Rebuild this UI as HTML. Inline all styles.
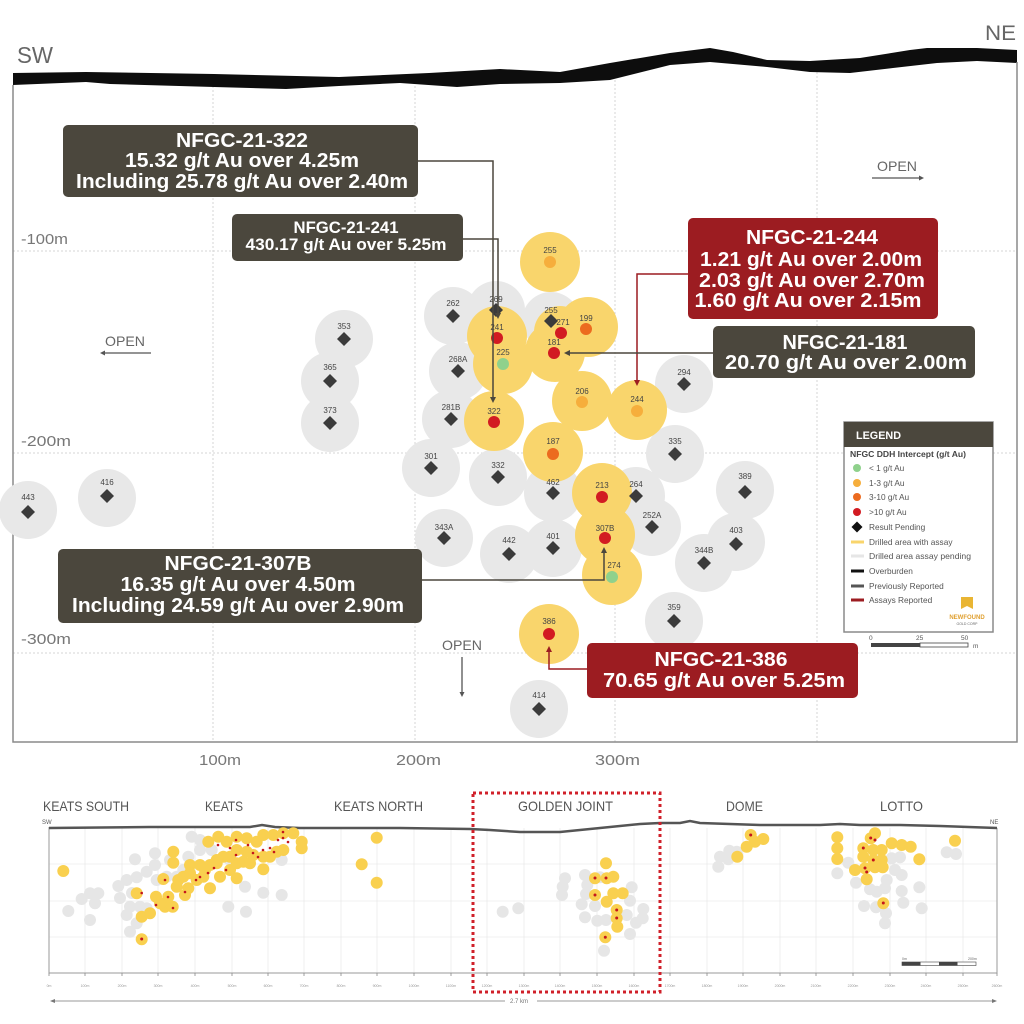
<!DOCTYPE html>
<html><head><meta charset="utf-8"><style>
html,body{margin:0;padding:0;background:#fff;}
svg{display:block;font-family:"Liberation Sans",Arial,sans-serif;}
</style></head><body>
<svg width="1024" height="1024" viewBox="0 0 1024 1024" xmlns="http://www.w3.org/2000/svg">
<rect width="1024" height="1024" fill="#fff"/>

<!-- grid -->
<g stroke="#d6d6d6" stroke-width="1" stroke-dasharray="2 2" fill="none">
<path d="M13 251H1017M13 453H1017M13 653H1017"/>
<path d="M213 86V742M415 86V742M615 80V742M817 72V742"/>
</g>

<!-- overburden -->
<polygon fill="#0d0d0d" points="13,73 86,72 214,74 339,77 429,73 500,69 560,72 610,63 670,53 710,48 733,52 767,60 810,61 860,58 910,50 927,48 977,48 1017,50 1017,63 977,61 937,63 893,68 850,73 810,72 767,67 710,62 670,65 610,80 560,83 500,84 457,87 400,83 339,86 286,89 214,87 110,84 86,82 13,85"/>
<text x="17" y="63" font-size="23" fill="#666" textLength="36" lengthAdjust="spacingAndGlyphs">SW</text>
<text x="985" y="40" font-size="21" fill="#666" textLength="31" lengthAdjust="spacingAndGlyphs">NE</text>

<!-- frame -->
<path d="M13 85V742H1017V62" fill="none" stroke="#8a8a8a" stroke-width="1.5"/>

<!-- axis labels -->
<g font-size="15" fill="#777">
<text x="21" y="244" textLength="47" lengthAdjust="spacingAndGlyphs">-100m</text>
<text x="21" y="446" textLength="50" lengthAdjust="spacingAndGlyphs">-200m</text>
<text x="21" y="644" textLength="50" lengthAdjust="spacingAndGlyphs">-300m</text>
<text x="199" y="765" textLength="42" lengthAdjust="spacingAndGlyphs">100m</text>
<text x="396" y="765" textLength="45" lengthAdjust="spacingAndGlyphs">200m</text>
<text x="595" y="765" textLength="45" lengthAdjust="spacingAndGlyphs">300m</text>
</g>

<!-- gray circles -->
<g fill="#e8e8e8">
<circle cx="344" cy="339" r="29"/><circle cx="330" cy="381" r="29"/><circle cx="330" cy="423" r="29"/>
<circle cx="453" cy="316" r="29"/><circle cx="458" cy="371" r="29"/><circle cx="451" cy="419" r="29"/>
<circle cx="496" cy="310" r="29"/><circle cx="551" cy="321" r="29"/><circle cx="684" cy="384" r="29"/>
<circle cx="675" cy="454" r="29"/><circle cx="431" cy="468" r="29"/><circle cx="498" cy="477" r="29"/>
<circle cx="553" cy="493" r="29"/><circle cx="636" cy="496" r="29"/><circle cx="745" cy="490" r="29"/>
<circle cx="652" cy="527" r="29"/><circle cx="444" cy="538" r="29"/><circle cx="509" cy="554" r="29"/>
<circle cx="553" cy="548" r="29"/><circle cx="736" cy="542" r="29"/><circle cx="704" cy="563" r="29"/>
<circle cx="674" cy="621" r="29"/><circle cx="539" cy="709" r="29"/><circle cx="28" cy="510" r="29"/>
<circle cx="107" cy="498" r="29"/>
</g>

<!-- yellow circles -->
<g fill="#f9d56c">
<circle cx="550" cy="262" r="30"/><circle cx="497" cy="336" r="30"/><circle cx="503" cy="364" r="30"/>
<circle cx="555" cy="352" r="30"/><circle cx="560" cy="332" r="26"/><circle cx="588" cy="327" r="30"/>
<circle cx="582" cy="401" r="30"/><circle cx="637" cy="410" r="30"/><circle cx="494" cy="421" r="30"/>
<circle cx="553" cy="452" r="30"/><circle cx="602" cy="493" r="30"/><circle cx="605" cy="535" r="30"/>
<circle cx="612" cy="575" r="30"/><circle cx="549" cy="634" r="30"/>
</g>

<!-- markers -->
<g fill="#3b3b3b">
<path d="M344 332l7 7-7 7-7-7z"/><path d="M330 374l7 7-7 7-7-7z"/><path d="M330 416l7 7-7 7-7-7z"/>
<path d="M453 309l7 7-7 7-7-7z"/><path d="M458 364l7 7-7 7-7-7z"/><path d="M451 412l7 7-7 7-7-7z"/>
<path d="M496 303l7 7-7 7-7-7z"/><path d="M551 314l7 7-7 7-7-7z"/><path d="M684 377l7 7-7 7-7-7z"/>
<path d="M675 447l7 7-7 7-7-7z"/><path d="M431 461l7 7-7 7-7-7z"/><path d="M498 470l7 7-7 7-7-7z"/>
<path d="M553 486l7 7-7 7-7-7z"/><path d="M636 489l7 7-7 7-7-7z"/><path d="M745 485l7 7-7 7-7-7z"/>
<path d="M652 520l7 7-7 7-7-7z"/><path d="M444 531l7 7-7 7-7-7z"/><path d="M509 547l7 7-7 7-7-7z"/>
<path d="M553 541l7 7-7 7-7-7z"/><path d="M736 537l7 7-7 7-7-7z"/><path d="M704 556l7 7-7 7-7-7z"/>
<path d="M674 614l7 7-7 7-7-7z"/><path d="M539 702l7 7-7 7-7-7z"/><path d="M28 505l7 7-7 7-7-7z"/>
<path d="M107 489l7 7-7 7-7-7z"/>
</g>

<!-- dots -->
<circle cx="550" cy="262" r="6" fill="#f6ae3c"/>
<circle cx="497" cy="338" r="6" fill="#d21b22"/>
<circle cx="561" cy="333" r="6" fill="#d21b22"/>
<circle cx="586" cy="329" r="6" fill="#ec6b1f"/>
<circle cx="554" cy="353" r="6" fill="#d21b22"/>
<circle cx="503" cy="364" r="6" fill="#8fd18c"/>
<circle cx="582" cy="402" r="6" fill="#f6ae3c"/>
<circle cx="637" cy="411" r="6" fill="#f6ae3c"/>
<circle cx="494" cy="422" r="6" fill="#d21b22"/>
<circle cx="553" cy="454" r="6" fill="#ec6b1f"/>
<circle cx="602" cy="497" r="6" fill="#d21b22"/>
<circle cx="605" cy="538" r="6" fill="#d21b22"/>
<circle cx="612" cy="577" r="6" fill="#8fd18c"/>
<circle cx="549" cy="634" r="6" fill="#d21b22"/>

<!-- hole labels -->
<g font-size="8" fill="#444" text-anchor="middle">
<text x="344" y="329">353</text><text x="330" y="370">365</text><text x="330" y="413">373</text>
<text x="453" y="306">262</text><text x="458" y="362">268A</text><text x="451" y="410">281B</text>
<text x="496" y="302">269</text><text x="551" y="313">255</text><text x="684" y="375">294</text>
<text x="675" y="444">335</text><text x="431" y="459">301</text><text x="498" y="468">332</text>
<text x="553" y="485">462</text><text x="636" y="487">264</text><text x="745" y="479">389</text>
<text x="652" y="518">252A</text><text x="444" y="530">343A</text><text x="509" y="543">442</text>
<text x="553" y="539">401</text><text x="736" y="533">403</text><text x="704" y="553">344B</text>
<text x="674" y="610">359</text><text x="539" y="698">414</text><text x="28" y="500">443</text>
<text x="107" y="485">416</text>
<text x="550" y="253">255</text><text x="497" y="330">241</text><text x="563" y="325">271</text>
<text x="586" y="321">199</text><text x="554" y="345">181</text><text x="503" y="355">225</text>
<text x="582" y="394">206</text><text x="637" y="402">244</text><text x="494" y="414">322</text>
<text x="553" y="444">187</text><text x="602" y="488">213</text><text x="605" y="531">307B</text>
<text x="614" y="568">274</text><text x="549" y="624">386</text>
</g>

<!-- OPEN labels -->
<g font-size="14" fill="#666">
<text x="105" y="346" textLength="40" lengthAdjust="spacingAndGlyphs">OPEN</text>
<text x="877" y="171" textLength="40" lengthAdjust="spacingAndGlyphs">OPEN</text>
<text x="442" y="650" textLength="40" lengthAdjust="spacingAndGlyphs">OPEN</text>
</g>
<g stroke="#555" stroke-width="1.3" fill="none">
<path d="M151 353H102M872 178H921M462 657V694"/>
</g>
<g fill="#555">
<path d="M100 353l5-2.5v5z"/><path d="M924 178l-5-2.5v5z"/><path d="M462 697l-2.5-5h5z"/>
</g>

<!-- connectors -->
<g fill="none" stroke-width="1.5">
<path d="M418 161H493V398" stroke="#4b473d"/>
<path d="M463 239H498V314" stroke="#4b473d"/>
<path d="M688 274H637V381" stroke="#9c1c21"/>
<path d="M713 353H569" stroke="#4b473d"/>
<path d="M422 580H604V552" stroke="#4b473d"/>
<path d="M587 669H549V651" stroke="#9c1c21"/>
</g>
<path d="M493 403l-3-6h6z" fill="#4b473d"/>
<path d="M498 319l-3-6h6z" fill="#4b473d"/>
<path d="M637 386l-3-6h6z" fill="#9c1c21"/>
<path d="M564 353l6-3v6z" fill="#4b473d"/>
<path d="M604 547l-3 6h6z" fill="#4b473d"/>
<path d="M549 646l-3 6h6z" fill="#9c1c21"/>

<!-- boxes -->
<g fill="#fff" font-weight="bold" text-anchor="middle">
<rect x="63" y="125" width="355" height="72" rx="5" fill="#4b473d"/>
<text x="242" y="147" font-size="20" textLength="132" lengthAdjust="spacingAndGlyphs">NFGC-21-322</text>
<text x="242" y="167" font-size="20" textLength="234" lengthAdjust="spacingAndGlyphs">15.32 g/t Au over 4.25m</text>
<text x="242" y="188" font-size="20" textLength="332" lengthAdjust="spacingAndGlyphs">Including 25.78 g/t Au over 2.40m</text>

<rect x="232" y="214" width="231" height="47" rx="5" fill="#4b473d"/>
<text x="346" y="233" font-size="16.5" textLength="105" lengthAdjust="spacingAndGlyphs">NFGC-21-241</text>
<text x="346" y="250" font-size="16.5" textLength="201" lengthAdjust="spacingAndGlyphs">430.17 g/t Au over 5.25m</text>

<rect x="688" y="218" width="250" height="101" rx="5" fill="#9c1c21"/>
<text x="812" y="244" font-size="20" textLength="132" lengthAdjust="spacingAndGlyphs">NFGC-21-244</text>
<text x="811" y="266" font-size="20" textLength="222" lengthAdjust="spacingAndGlyphs">1.21 g/t Au over 2.00m</text>
<text x="812" y="287" font-size="20" textLength="226" lengthAdjust="spacingAndGlyphs">2.03 g/t Au over 2.70m</text>
<text x="808" y="307" font-size="20" textLength="227" lengthAdjust="spacingAndGlyphs">1.60 g/t Au over 2.15m</text>

<rect x="713" y="326" width="262" height="52" rx="5" fill="#4b473d"/>
<text x="845" y="349" font-size="20" textLength="125" lengthAdjust="spacingAndGlyphs">NFGC-21-181</text>
<text x="846" y="369" font-size="20" textLength="242" lengthAdjust="spacingAndGlyphs">20.70 g/t Au over 2.00m</text>

<rect x="58" y="549" width="364" height="74" rx="5" fill="#4b473d"/>
<text x="238" y="570" font-size="20" textLength="147" lengthAdjust="spacingAndGlyphs">NFGC-21-307B</text>
<text x="238" y="591" font-size="20" textLength="235" lengthAdjust="spacingAndGlyphs">16.35 g/t Au over 4.50m</text>
<text x="238" y="612" font-size="20" textLength="332" lengthAdjust="spacingAndGlyphs">Including 24.59 g/t Au over 2.90m</text>

<rect x="587" y="643" width="271" height="55" rx="5" fill="#9c1c21"/>
<text x="721" y="666" font-size="20" textLength="133" lengthAdjust="spacingAndGlyphs">NFGC-21-386</text>
<text x="724" y="687" font-size="20" textLength="242" lengthAdjust="spacingAndGlyphs">70.65 g/t Au over 5.25m</text>
</g>

<!-- legend -->
<rect x="844" y="422" width="149" height="210" fill="#fff" stroke="#8a8a8a" stroke-width="1.5"/>
<rect x="844" y="422" width="149" height="25" fill="#4b473d"/>
<text x="856" y="439" font-size="11" font-weight="bold" fill="#fff" textLength="45" lengthAdjust="spacingAndGlyphs">LEGEND</text>
<text x="850" y="457" font-size="8" font-weight="bold" fill="#444" textLength="116" lengthAdjust="spacingAndGlyphs">NFGC DDH Intercept (g/t Au)</text>
<circle cx="857" cy="468" r="4" fill="#8fd18c"/>
<circle cx="857" cy="483" r="4" fill="#f6ae3c"/>
<circle cx="857" cy="497" r="4" fill="#ec6b1f"/>
<circle cx="857" cy="512" r="4" fill="#d21b22"/>
<path d="M857 521.5l5.5 5.5-5.5 5.5-5.5-5.5z" fill="#111"/>
<path d="M851 542h13" stroke="#f9d56c" stroke-width="3"/>
<path d="M851 556h13" stroke="#e6e6e6" stroke-width="3"/>
<path d="M851 571h13" stroke="#111" stroke-width="3"/>
<path d="M851 586h13" stroke="#555" stroke-width="3"/>
<path d="M851 600h13" stroke="#9c1c21" stroke-width="3"/>
<g font-size="8.3" fill="#555">
<text x="869" y="471">&lt; 1 g/t Au</text>
<text x="869" y="486">1-3 g/t Au</text>
<text x="869" y="500">3-10 g/t Au</text>
<text x="869" y="515">&gt;10 g/t Au</text>
<text x="869" y="530">Result Pending</text>
<text x="869" y="545">Drilled area with assay</text>
<text x="869" y="559" textLength="102" lengthAdjust="spacingAndGlyphs">Drilled area assay pending</text>
<text x="869" y="574">Overburden</text>
<text x="869" y="589">Previously Reported</text>
<text x="869" y="603">Assays Reported</text>
</g>
<path d="M961 597h12v12l-6-3-6 3z" fill="#e9b533"/>
<text x="967" y="619" font-size="6" fill="#e0a030" text-anchor="middle" font-weight="bold">NEWFOUND</text>
<text x="967" y="625" font-size="3.5" fill="#666" text-anchor="middle">GOLD CORP</text>
<!-- scale -->
<g font-size="6.5" fill="#555">
<text x="869" y="640">0</text><text x="916" y="640">25</text><text x="961" y="640">50</text><text x="973" y="648">m</text>
</g>
<rect x="871" y="643" width="49" height="4" fill="#444"/>
<rect x="920" y="643" width="48" height="4" fill="#fff" stroke="#444" stroke-width="0.8"/>

<!-- ============ INSET ============ -->
<g font-size="14" fill="#555">
<text x="43" y="811" textLength="86" lengthAdjust="spacingAndGlyphs">KEATS SOUTH</text>
<text x="205" y="811" textLength="38" lengthAdjust="spacingAndGlyphs">KEATS</text>
<text x="334" y="811" textLength="89" lengthAdjust="spacingAndGlyphs">KEATS NORTH</text>
<text x="518" y="811" textLength="95" lengthAdjust="spacingAndGlyphs">GOLDEN JOINT</text>
<text x="726" y="811" textLength="37" lengthAdjust="spacingAndGlyphs">DOME</text>
<text x="880" y="811" textLength="43" lengthAdjust="spacingAndGlyphs">LOTTO</text>
</g>
<text x="42" y="824" font-size="6" fill="#555">SW</text>
<text x="990" y="824" font-size="6" fill="#555">NE</text>

<g stroke="#ebebeb" stroke-width="0.8" fill="none">
<path d="M49 864H997M49 901H997M49 937H997"/>
<path d="M85 828V973M122 828V973M158 828V973M195 828V973M232 828V973M268 828V973M304 828V973M341 828V973M377 828V973M414 828V973M451 828V973M487 828V973M524 828V973M560 828V973M597 828V973M634 828V973M670 828V973M707 828V973M743 828V973M780 828V973M816 828V973M853 828V973M890 828V973M926 828V973M963 828V973"/>
</g>
<path d="M49 827V973H997V828" fill="none" stroke="#9a9a9a" stroke-width="1"/>
<g stroke="#888" stroke-width="0.8">
<path d="M49 973v3M85 973v3M122 973v3M158 973v3M195 973v3M232 973v3M268 973v3M304 973v3M341 973v3M377 973v3M414 973v3M451 973v3M487 973v3M524 973v3M560 973v3M597 973v3M634 973v3M670 973v3M707 973v3M743 973v3M780 973v3M816 973v3M853 973v3M890 973v3M926 973v3M963 973v3M997 973v3"/>
</g>
<g font-size="3.5" fill="#999" text-anchor="middle">
<text x="49" y="987">0m</text><text x="85" y="987">100m</text><text x="122" y="987">200m</text><text x="158" y="987">300m</text><text x="195" y="987">400m</text><text x="232" y="987">500m</text><text x="268" y="987">600m</text><text x="304" y="987">700m</text><text x="341" y="987">800m</text><text x="377" y="987">900m</text><text x="414" y="987">1000m</text><text x="451" y="987">1100m</text><text x="487" y="987">1200m</text><text x="524" y="987">1300m</text><text x="560" y="987">1400m</text><text x="597" y="987">1500m</text><text x="634" y="987">1600m</text><text x="670" y="987">1700m</text><text x="707" y="987">1800m</text><text x="743" y="987">1900m</text><text x="780" y="987">2000m</text><text x="816" y="987">2100m</text><text x="853" y="987">2200m</text><text x="890" y="987">2300m</text><text x="926" y="987">2400m</text><text x="963" y="987">2500m</text><text x="997" y="987">2600m</text>
</g>

<path d="M49 828L150 827L250 827L262 825L275 827L300 828L400 828L470 829L490 830L520 832L560 832L600 828L640 824L660 823L680 823L690 821L700 823L760 825L820 825L840 824L860 825L900 825L940 826L997 828" fill="none" stroke="#555" stroke-width="2.5"/>

<!-- inset gray holes -->
<g fill="#e6e6e6">
<circle cx="68.3" cy="911" r="6"/><circle cx="90" cy="920" r="6"/><circle cx="81.7" cy="899" r="6"/><circle cx="95" cy="903.3" r="6"/><circle cx="90" cy="893.3" r="6"/><circle cx="98.3" cy="893.3" r="6"/><circle cx="118.3" cy="886" r="6"/><circle cx="126.7" cy="880" r="6"/><circle cx="136.7" cy="877.3" r="6"/><circle cx="135" cy="859.3" r="6"/><circle cx="155" cy="853.3" r="6"/><circle cx="155" cy="865" r="6"/><circle cx="146.7" cy="871.7" r="6"/><circle cx="130" cy="906.7" r="6"/><circle cx="126.7" cy="915" r="6"/><circle cx="136.7" cy="923.3" r="6"/><circle cx="130" cy="931.7" r="6"/><circle cx="140" cy="906.7" r="6"/><circle cx="146.7" cy="908.3" r="6"/><circle cx="183.3" cy="870" r="6"/><circle cx="188.3" cy="856.7" r="6"/><circle cx="191.7" cy="836.7" r="6"/><circle cx="200" cy="840" r="6"/><circle cx="200" cy="850" r="6"/><circle cx="211.7" cy="850" r="6"/><circle cx="230" cy="860" r="6"/><circle cx="245" cy="886.7" r="6"/><circle cx="263.3" cy="892.7" r="6"/><circle cx="281.7" cy="895" r="6"/><circle cx="228.3" cy="906.7" r="6"/><circle cx="246" cy="911.7" r="6"/><circle cx="176.7" cy="876.7" r="6"/><circle cx="166.7" cy="876.7" r="6"/><circle cx="156.7" cy="880" r="6"/><circle cx="281.7" cy="860" r="6"/><circle cx="502.7" cy="911.7" r="6"/><circle cx="518.3" cy="908.3" r="6"/><circle cx="120" cy="898" r="6"/><circle cx="132" cy="893" r="6"/><circle cx="170" cy="860" r="6"/>
<circle cx="565" cy="878.3" r="6"/><circle cx="562.7" cy="886.7" r="6"/><circle cx="562" cy="895" r="6"/><circle cx="585" cy="875" r="6"/><circle cx="587.3" cy="885" r="6"/><circle cx="586" cy="894" r="6"/><circle cx="581.7" cy="904.3" r="6"/><circle cx="595" cy="906" r="6"/><circle cx="600" cy="877.3" r="6"/><circle cx="631.7" cy="887.3" r="6"/><circle cx="630" cy="900.7" r="6"/><circle cx="643.3" cy="909" r="6"/><circle cx="642.7" cy="918.3" r="6"/><circle cx="636" cy="922.7" r="6"/><circle cx="626.7" cy="915" r="6"/><circle cx="585" cy="917.3" r="6"/><circle cx="597.3" cy="920.7" r="6"/><circle cx="606" cy="920" r="6"/><circle cx="630" cy="934" r="6"/><circle cx="604" cy="950.7" r="6"/>
<circle cx="729.3" cy="850.7" r="6"/><circle cx="720" cy="856.7" r="6"/><circle cx="728.3" cy="859.3" r="6"/><circle cx="736.7" cy="851.7" r="6"/><circle cx="718.3" cy="866.7" r="6"/>
<circle cx="848.3" cy="862.7" r="6"/><circle cx="837.3" cy="873.3" r="6"/><circle cx="856" cy="882.7" r="6"/><circle cx="870" cy="889.3" r="6"/><circle cx="876.7" cy="891.7" r="6"/><circle cx="885" cy="888.3" r="6"/><circle cx="886.7" cy="880" r="6"/><circle cx="891.7" cy="858.3" r="6"/><circle cx="900" cy="857.3" r="6"/><circle cx="895" cy="870" r="6"/><circle cx="901.7" cy="875" r="6"/><circle cx="901.7" cy="891" r="6"/><circle cx="903.3" cy="902.7" r="6"/><circle cx="919.3" cy="887.3" r="6"/><circle cx="921.7" cy="908.3" r="6"/><circle cx="864" cy="906" r="6"/><circle cx="876" cy="907.3" r="6"/><circle cx="886" cy="913.3" r="6"/><circle cx="885" cy="923.3" r="6"/><circle cx="946.7" cy="852.3" r="6"/><circle cx="956" cy="854" r="6"/>
</g>
<!-- inset yellow holes -->
<g fill="#f9d04f">
<circle cx="63.3" cy="871" r="6"/><circle cx="173.3" cy="851.7" r="6"/><circle cx="173.3" cy="862.7" r="6"/><circle cx="163.3" cy="879" r="6"/><circle cx="136.7" cy="893.3" r="6"/><circle cx="156" cy="896.7" r="6"/><circle cx="165" cy="906.7" r="6"/><circle cx="172.7" cy="906.7" r="6"/><circle cx="141.7" cy="916.7" r="6"/><circle cx="150" cy="913.3" r="6"/><circle cx="141.7" cy="939.3" r="6"/><circle cx="185" cy="895" r="6"/><circle cx="188.3" cy="888.3" r="6"/><circle cx="196.7" cy="880" r="6"/><circle cx="203.3" cy="876.7" r="6"/><circle cx="190" cy="865" r="6"/><circle cx="200" cy="865" r="6"/><circle cx="210" cy="865" r="6"/><circle cx="216.7" cy="863.3" r="6"/><circle cx="220" cy="876.7" r="6"/><circle cx="230" cy="870" r="6"/><circle cx="236.7" cy="863.3" r="6"/><circle cx="243.3" cy="861.7" r="6"/><circle cx="250" cy="863.3" r="6"/><circle cx="263.3" cy="869.3" r="6"/><circle cx="236.7" cy="878.3" r="6"/><circle cx="210" cy="888.3" r="6"/><circle cx="208.3" cy="841.7" r="6"/><circle cx="218.3" cy="836.7" r="6"/><circle cx="226.7" cy="841.7" r="6"/><circle cx="236.7" cy="836.7" r="6"/><circle cx="246.7" cy="838.3" r="6"/><circle cx="256.7" cy="841.7" r="6"/><circle cx="263.3" cy="835" r="6"/><circle cx="273.3" cy="835" r="6"/><circle cx="283.3" cy="833.3" r="6"/><circle cx="293.3" cy="833.3" r="6"/><circle cx="301.7" cy="841.7" r="6"/><circle cx="301.7" cy="848.3" r="6"/><circle cx="283.3" cy="850" r="6"/><circle cx="276.7" cy="851.7" r="6"/><circle cx="270" cy="856.7" r="6"/><circle cx="263.3" cy="856.7" r="6"/><circle cx="253.3" cy="855" r="6"/><circle cx="246.7" cy="851.7" r="6"/><circle cx="236.7" cy="850" r="6"/><circle cx="230" cy="856.7" r="6"/><circle cx="223.3" cy="856.7" r="6"/><circle cx="216.7" cy="860" r="6"/><circle cx="205" cy="870" r="6"/><circle cx="176.7" cy="886.7" r="6"/><circle cx="178.3" cy="880" r="6"/><circle cx="183.3" cy="876.7" r="6"/><circle cx="190" cy="873.3" r="6"/><circle cx="168.3" cy="896.7" r="6"/><circle cx="160" cy="903.3" r="6"/><circle cx="376.7" cy="837.7" r="6"/><circle cx="361.7" cy="864.3" r="6"/><circle cx="376.7" cy="882.7" r="6"/>
<circle cx="606" cy="863.3" r="6"/><circle cx="595" cy="878.3" r="6"/><circle cx="606.7" cy="878.3" r="6"/><circle cx="613.3" cy="876.7" r="6"/><circle cx="595" cy="895" r="6"/><circle cx="606.7" cy="901.7" r="6"/><circle cx="613.3" cy="893.3" r="6"/><circle cx="622.7" cy="893.3" r="6"/><circle cx="616.7" cy="910" r="6"/><circle cx="616.7" cy="918.3" r="6"/><circle cx="617.3" cy="926.7" r="6"/><circle cx="605.3" cy="937.3" r="6"/>
<circle cx="750.7" cy="835" r="6"/><circle cx="755" cy="841.7" r="6"/><circle cx="746.7" cy="846.7" r="6"/><circle cx="763.3" cy="839" r="6"/><circle cx="737.3" cy="856.7" r="6"/>
<circle cx="837.3" cy="837.3" r="6"/><circle cx="837.3" cy="848.3" r="6"/><circle cx="837.3" cy="859" r="6"/><circle cx="875" cy="833.3" r="6"/><circle cx="870.7" cy="838.3" r="6"/><circle cx="863.3" cy="848.3" r="6"/><circle cx="873.3" cy="850" r="6"/><circle cx="881.7" cy="850" r="6"/><circle cx="863.3" cy="856.7" r="6"/><circle cx="873.3" cy="860" r="6"/><circle cx="881.7" cy="860" r="6"/><circle cx="855" cy="870" r="6"/><circle cx="865" cy="868.3" r="6"/><circle cx="875" cy="867.3" r="6"/><circle cx="882.7" cy="867.3" r="6"/><circle cx="866.7" cy="879.3" r="6"/><circle cx="891.7" cy="843.3" r="6"/><circle cx="901.7" cy="845" r="6"/><circle cx="910.7" cy="846.7" r="6"/><circle cx="919.3" cy="859.3" r="6"/><circle cx="955" cy="840.7" r="6"/><circle cx="883.3" cy="903.3" r="6"/>
</g>
<!-- inset red dots -->
<g fill="#c4161c">
<circle cx="218" cy="845" r="1.3"/><circle cx="236" cy="840" r="1.3"/><circle cx="248" cy="845" r="1.3"/><circle cx="263" cy="850" r="1.3"/><circle cx="270" cy="848" r="1.3"/><circle cx="283" cy="838" r="1.3"/><circle cx="288" cy="842" r="1.3"/><circle cx="226" cy="870" r="1.3"/><circle cx="208" cy="873" r="1.3"/><circle cx="196" cy="880" r="1.3"/><circle cx="165" cy="880" r="1.3"/><circle cx="173" cy="908" r="1.3"/><circle cx="156" cy="905" r="1.3"/><circle cx="141.7" cy="893" r="1.3"/><circle cx="141.7" cy="939" r="1.5"/><circle cx="283" cy="832" r="1.3"/><circle cx="236" cy="855" r="1.3"/><circle cx="253" cy="853" r="1.3"/><circle cx="258" cy="857" r="1.3"/><circle cx="274" cy="852" r="1.3"/><circle cx="278" cy="840" r="1.3"/><circle cx="230" cy="848" r="1.3"/><circle cx="214" cy="868" r="1.3"/><circle cx="200" cy="877" r="1.3"/><circle cx="185" cy="892" r="1.3"/><circle cx="168" cy="897" r="1.3"/>
<circle cx="595" cy="878" r="1.5"/><circle cx="606" cy="878" r="1.5"/><circle cx="595" cy="895" r="1.5"/><circle cx="616.7" cy="910" r="1.5"/><circle cx="616.7" cy="918" r="1.5"/><circle cx="605.3" cy="937.3" r="1.5"/>
<circle cx="750.7" cy="835" r="1.5"/>
<circle cx="870.7" cy="838" r="1.5"/><circle cx="875" cy="840" r="1.5"/><circle cx="863.3" cy="848" r="1.5"/><circle cx="873.3" cy="860" r="1.5"/><circle cx="865" cy="868" r="1.5"/><circle cx="866.7" cy="872" r="1.5"/><circle cx="883.3" cy="903" r="1.5"/>
</g>

<!-- inset scale -->
<g font-size="3.5" fill="#666"><text x="902" y="960">0m</text><text x="968" y="960">200m</text></g>
<rect x="902" y="962" width="74" height="3.5" fill="#fff" stroke="#444" stroke-width="0.6"/>
<rect x="902" y="962" width="18.5" height="3.5" fill="#444"/>
<rect x="939" y="962" width="18.5" height="3.5" fill="#444"/>

<!-- red dotted box -->
<rect x="473" y="793" width="187" height="199" fill="none" stroke="#d0202a" stroke-width="3" stroke-dasharray="3 3"/>

<!-- 2.7 km -->
<path d="M53 1001H505M537 1001H994" stroke="#999" stroke-width="1"/>
<path d="M50 1001l5-2v4zM997 1001l-5-2v4z" fill="#777"/>
<text x="510" y="1003" font-size="6" fill="#777">2.7 km</text>
</svg>
</body></html>
